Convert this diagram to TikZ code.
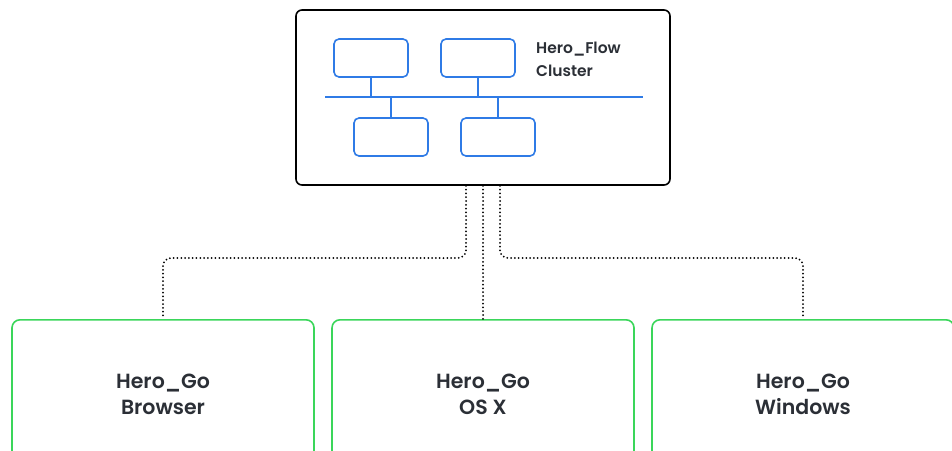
\documentclass[tikz,border=0pt]{standalone}
\usepackage{fontspec}
\setmainfont{Poppins}
\newfontfamily\labelfont{Poppins SemiBold}
\definecolor{ink}{HTML}{2B2F36}
\definecolor{netblue}{HTML}{2F7BE6}
\definecolor{gogreen}{HTML}{3AD65A}
\begin{document}
\begin{tikzpicture}[x=1pt,y=-1pt,
  clusterbox/.style={draw=black, line width=1.6pt, rounded corners=6pt, fill=white,
    minimum width=374pt, minimum height=175pt, inner sep=0pt},
  hostbox/.style={draw=netblue, line width=1.6pt, rounded corners=5pt,
    minimum width=74pt, minimum height=38pt, inner sep=0pt},
  net/.style={draw=netblue, line width=1.6pt},
  clientbox/.style={draw=gogreen, line width=1.6pt, rounded corners=8pt,
    minimum width=302pt, minimum height=150pt, inner sep=0pt, anchor=north},
  clientlabel/.style={text=ink, font=\labelfont\fontsize{20.5}{26}\selectfont, align=center},
  link/.style={line width=2pt, line cap=round, dash pattern=on 0pt off 3.8pt, rounded corners=8pt}
]
\useasboundingbox (0,0) rectangle (952,450);
\clip (0,0) rectangle (952,450);

% server cluster
\node[clusterbox] (cluster) at (483,97.5) {};
\node[hostbox] (h1) at (371,58) {};
\node[hostbox] (h2) at (478,58) {};
\node[hostbox] (h3) at (391,137) {};
\node[hostbox] (h4) at (498,137) {};
\coordinate (busL) at (325,97);
\coordinate (busR) at (643,97);
\draw[net] (busL) -- (busR);
\draw[net] (h1.south) -- (h1.south |- busL);
\draw[net] (h2.south) -- (h2.south |- busL);
\draw[net] (h3.north) -- (h3.north |- busL);
\draw[net] (h4.north) -- (h4.north |- busL);
\node[anchor=north west, inner sep=0pt, text=ink, align=left,
  font=\labelfont\fontsize{15.5}{23}\selectfont] (title) at (536,42) {Hero\_Flow\\Cluster};

% client applications
\node[clientbox] (browser) at (163,319) {};
\node[clientbox] (osx) at (483,319) {};
\node[clientbox] (windows) at (803,319) {};
\node[clientlabel] (lb) at (163,394) {Hero\_Go\\Browser};
\node[clientlabel] (lo) at (483,394) {Hero\_Go\\OS X};
\node[clientlabel] (lw) at (803,394) {Hero\_Go\\Windows};

% dotted links from the cluster to each client
\coordinate (split) at (483,258);
\draw[link] ([xshift=-17pt]cluster.south) -- ([xshift=-17pt]cluster.south |- split) -| (browser.north);
\draw[link] (cluster.south) -- (osx.north);
\draw[link] ([xshift=17pt]cluster.south) -- ([xshift=17pt]cluster.south |- split) -| (windows.north);
\end{tikzpicture}
\end{document}
